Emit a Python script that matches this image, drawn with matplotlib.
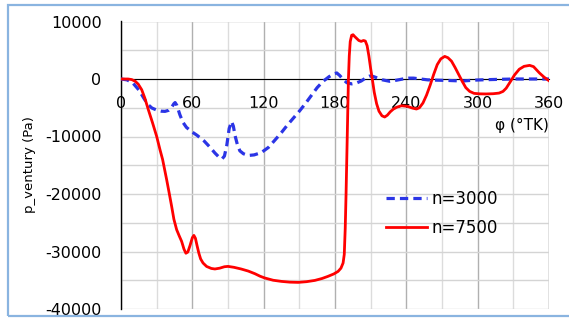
import matplotlib
matplotlib.use("Agg")
import matplotlib.pyplot as plt
from matplotlib.patches import Rectangle
import numpy as np

# ---- data ----
phi_3000 = [0, 5, 10, 15, 20, 23, 26, 30, 34, 37, 40, 42, 44.5, 45.5, 47, 49.5, 52, 55, 59, 64,
            70, 75, 79, 82, 85, 87, 89, 91, 93, 94.5, 96, 98, 100, 103, 107, 112, 118, 124, 130,
            135, 140, 145, 150, 155, 160, 165, 170, 175, 179, 181.5, 184, 187, 190, 194, 198,
            202, 206, 209, 212, 216, 220, 226, 232, 237, 242, 246, 252, 258, 265, 275, 287,
            297, 307, 320, 332, 345, 360]
p_3000 = [0, -150, -700, -1900, -3600, -4500, -5050, -5400, -5600, -5630, -5450, -5100, -4300,
          -4100, -4600, -6200, -7500, -8400, -9100, -9800, -10800, -11900, -12870, -13500,
          -13900, -13400, -11500, -8600, -7400, -8200, -9900, -11500, -12500, -13000, -13300,
          -13200, -12800, -11900, -10500, -9300, -8000, -6800, -5600, -4300, -2900, -1500,
          -400, 400, 900, 1050, 600, -100, -650, -850, -700, -350, 200, 500, 450, 150, -150,
          -400, -200, 0, 150, 150, 0, -150, -200, -250, -350, -200, -120, -50, 0, 0, 0]

phi_7500 = [0, 6, 9, 12, 14.5, 17.4, 20, 23, 26.5, 30, 32.8, 35, 38.4, 40.5, 42.6, 44.5, 46.8,
            49, 51, 53, 54.6, 56.2, 58, 60, 61.3, 62.6, 64, 65.5, 67, 69, 72, 76, 79, 83, 87,
            90, 95, 101, 107, 112.6, 117, 121, 128, 135, 142, 149, 156, 163, 169, 174, 179,
            182.6, 185, 186.8, 187.8, 188.6, 189.3, 190, 190.7, 191.3, 192, 192.8, 194, 195.2,
            196.5, 198, 200, 202, 204, 205.5, 207, 208.5, 210, 211.5, 213, 215, 217, 219.5,
            221.8, 224, 226.5, 229, 232, 236, 241, 245, 248.5, 251, 254, 257, 260, 263, 266,
            269, 272.3, 275, 278, 281, 284, 287, 290, 293.3, 297, 301.7, 307, 313, 318, 321.3,
            324, 328, 331, 335, 339, 343.7, 347, 352, 356, 360]
p_7500 = [0, 0, -100, -400, -900, -1860, -3300, -5340, -7600, -9980, -12300, -14000, -17500,
          -19800, -22150, -24400, -26200, -27300, -28240, -29600, -30300, -30100, -29000,
          -27600, -27200, -27700, -29000, -30300, -31300, -32000, -32600, -32950, -33040,
          -32900, -32650, -32590, -32750, -33040, -33400, -33860, -34300, -34610, -35000,
          -35200, -35330, -35370, -35250, -35030, -34700, -34330, -33900, -33460, -32900,
          -32000, -30500, -26000, -20000, -13000, -6000, 0, 4000, 6500, 7600, 7700, 7400,
          7100, 6700, 6540, 6700, 6600, 5800, 4000, 1800, -200, -2300, -4300, -5600, -6400,
          -6610, -6300, -5700, -5250, -4900, -4650, -4760, -5050, -5220, -5000, -4170, -2800,
          -1100, 800, 2500, 3500, 3930, 3700, 3100, 2000, 800, -400, -1500, -2160, -2500,
          -2580, -2600, -2560, -2450, -2160, -1600, -300, 700, 1700, 2200, 2370, 2150, 1040,
          300, -300]

x_ticks = [0, 60, 120, 180, 240, 300, 360]
y_ticks = [10000, 0, -10000, -20000, -30000, -40000]
y_tick_labels = ["10000", "0", "-10000", "-20000", "-30000", "-40000"]
series_labels = ["n=3000", "n=7500"]

plt.rcParams['font.family'] = ['DejaVu Sans']

fig = plt.figure(figsize=(5.69, 3.22), dpi=100)
ax = fig.add_axes([121/569, 1-309/322, 428/569, 287.5/322])

# figure border
fig.patches.append(Rectangle((8/569, 1-316/322), 1.2, 311.5/322, transform=fig.transFigure,
                             fill=False, edgecolor='#8ab4e0', linewidth=1.6, zorder=0))

ax.set_xlim(0, 360)
ax.set_ylim(-40000, 10000)

ax.set_xticks(x_ticks)
ax.set_xticks(np.arange(30, 360, 60), minor=True)
ax.set_yticks(y_ticks)
ax.set_yticklabels(y_tick_labels)
ax.set_yticks(np.arange(-35000, 10000, 10000), minor=True)

ax.grid(True, which='major', axis='x', color='#b0b0b0', linewidth=1.0)
ax.grid(True, which='minor', axis='x', color='#dcdcdc', linewidth=1.0)
ax.grid(True, which='both', axis='y', color='#d4d4d4', linewidth=1.0)
ax.set_axisbelow(True)

for s in ['top', 'right']:
    ax.spines[s].set_visible(False)
ax.spines['bottom'].set_position(('data', 0))
ax.spines['bottom'].set_color('black')
ax.spines['bottom'].set_linewidth(0.8)
ax.spines['left'].set_color('black')
ax.spines['left'].set_linewidth(1.0)

# right and top gridline-like edges
ax.axvline(360, color='#b0b0b0', linewidth=1.0, zorder=0.5)
ax.axhline(10000, color='#d4d4d4', linewidth=1.0, zorder=0.5)

ax.tick_params(axis='x', which='both', length=0, pad=12, labelsize=11.5)
ax.tick_params(axis='y', which='both', length=0, pad=14, labelsize=11.5)

ax.plot(phi_3000, p_3000, color='#2b35e6', linewidth=2.3, linestyle=(0, (2.6, 1.6)),
        label=series_labels[0], zorder=3)
ax.plot(phi_7500, p_7500, color='#ff0000', linewidth=2.0, label=series_labels[1], zorder=4)

leg = ax.legend(loc='upper left', bbox_to_anchor=(0.62, 0.413), frameon=False,
                fontsize=12, handlelength=2.45, handletextpad=0.25, borderpad=0,
                borderaxespad=0, labelspacing=0.62)

ax.text(1.0, (309-125)/287.5, "φ (°TK)", transform=ax.transAxes, ha='right', va='center',
        fontsize=11)
fig.text(29/569, 1-164.5/322, "p_ventury (Pa)", rotation=90, ha='center', va='center',
         fontsize=9.5)

fig.savefig("out.png", dpi=100)
